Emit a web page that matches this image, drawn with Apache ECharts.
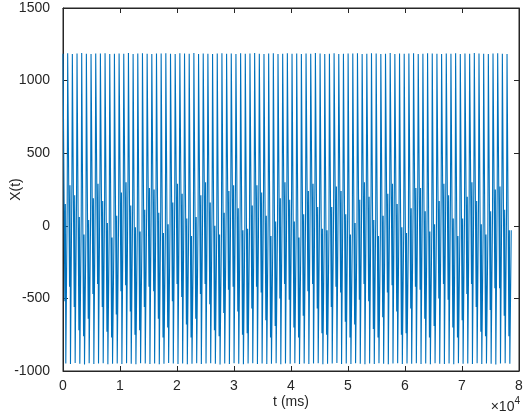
<!DOCTYPE html>
<html lang="en">
<head>
    <meta charset="UTF-8">
    <title>X(t)</title>
    <script src="https://cdn.jsdelivr.net/npm/echarts@6/dist/echarts.min.js"></script>
    <style>
        html, body { margin: 0; padding: 0; background: #fff; }
        #chart { width: 532px; height: 417px; }
    </style>
</head>
<body>
<div id="chart"></div>
<script type="text/javascript">
    // one oscillation cycle lasts about 820 ms, 96 cycles are visible
    const cyclePeriod = 820;

    // top of each cycle
    const peaks = [
        1185, 1188, 1184, 1186, 1190, 1185, 1183, 1187, 1186, 1189, 1184, 1185,
        1187, 1185, 1190, 1184, 1186, 1188, 1185, 1183, 1187, 1186, 1189, 1185,
        1184, 1188, 1186, 1185, 1190, 1184, 1187, 1185, 1183, 1186, 1189, 1185,
        1186, 1184, 1188, 1185, 1187, 1190, 1185, 1183, 1186, 1188, 1184, 1185,
        1189, 1185, 1186, 1184, 1187, 1185, 1190, 1186, 1183, 1185, 1188, 1184,
        1185, 1187, 1186, 1189, 1184, 1185, 1188, 1186, 1183, 1185, 1190, 1184,
        1186, 1185, 1187, 1188, 1184, 1185, 1189, 1186, 1185, 1183, 1187, 1185,
        1188, 1184, 1186, 1185, 1190, 1187, 1185, 1184, 1186, 1188, 1185, 1183
    ];
    // bottom of each cycle
    const troughs = [
        -948, -952, -945, -950, -955, -947, -951, -949, -946, -953, -950, -948,
        -952, -947, -950, -954, -946, -949, -951, -948, -953, -950, -945, -949,
        -951, -948, -954, -950, -946, -952, -949, -947, -950, -955, -948, -951,
        -947, -950, -953, -949, -946, -951, -948, -952, -950, -947, -954, -949,
        -950, -946, -952, -948, -951, -949, -947, -953, -950, -948, -945, -951,
        -949, -952, -947, -950, -954, -948, -951, -946, -950, -953, -949, -947,
        -951, -948, -950, -946, -952, -949, -954, -947, -950, -951, -948, -953,
        -946, -950, -949, -952, -947, -951, -948, -950, -955, -949, -946, -950
    ];
    // upper edge of the dense middle band
    const bandTop = [
        150, 280, 210, 60, -60, 40, 190, 290, 170, 20, -80, 70,
        230, 300, 140, -10, -40, 110, 260, 250, 90, -50, 10, 160,
        290, 220, 50, -70, 60, 210, 300, 160, 0, -60, 90, 240,
        280, 120, -30, -20, 140, 280, 230, 70, -70, 30, 190, 300,
        180, 30, -80, 80, 240, 290, 130, -20, -30, 130, 270, 240,
        80, -60, 20, 180, 300, 200, 40, -70, 70, 220, 290, 150,
        -10, -50, 120, 260, 260, 100, -40, 10, 170, 290, 210, 50,
        -70, 50, 200, 300, 170, 10, -60, 100, 250, 270, 110, -30
    ];
    // lower edge of the dense middle band
    const bandBot = [
        -520, -420, -560, -720, -760, -640, -470, -400, -560, -730, -770, -610,
        -450, -410, -590, -750, -720, -560, -420, -450, -640, -770, -700, -520,
        -400, -490, -680, -770, -640, -470, -400, -540, -720, -760, -600, -440,
        -420, -590, -750, -740, -570, -420, -460, -650, -770, -690, -500, -400,
        -510, -700, -770, -620, -450, -400, -570, -740, -750, -560, -420, -460,
        -660, -770, -680, -510, -400, -520, -710, -770, -630, -460, -410, -590,
        -750, -740, -570, -420, -440, -640, -770, -690, -500, -400, -510, -700,
        -770, -650, -470, -400, -560, -730, -760, -580, -430, -430, -620, -760
    ];

    const xTicks = ['0', '1', '2', '3', '4', '5', '6', '7', '8'];
    const yTicks = [-1000, -500, 0, 500, 1000, 1500];

    // line through the samples of every cycle (flat top and bottom)
    let points = [];
    const step = cyclePeriod / 10;
    for (let i = 0; i < peaks.length; i++) {
        let t0 = i * cyclePeriod;
        let seq = [peaks[i], peaks[i], peaks[i], peaks[i], bandBot[i],
                   bandTop[i], troughs[i], troughs[i], troughs[i], bandTop[i]];
        for (let k = 0; k < seq.length; k++) {
            points.push([t0 + k * step, seq[k]]);
        }
    }

    const axisColor = '#262626';
    const font = 'Liberation Sans, Arial, sans-serif';

    let chart = echarts.init(document.getElementById('chart'), null, {renderer: 'canvas'});
    chart.setOption({
        animation: false,
        backgroundColor: '#fff',
        grid: {
            left: 63, right: 13, top: 8, bottom: 46,
            containLabel: false, outerBoundsMode: 'none',
            show: true, borderColor: axisColor, borderWidth: 1, backgroundColor: '#fff'
        },
        xAxis: [{
            type: 'value', min: 0, max: 80000, interval: 10000,
            name: 't (ms)', nameLocation: 'middle', nameGap: 24, nameMoveOverlap: false,
            nameTextStyle: {color: axisColor, fontFamily: font, fontSize: 14},
            axisLine: {show: true, onZero: false, lineStyle: {color: axisColor}},
            axisTick: {show: true, inside: true, length: 5, lineStyle: {color: axisColor}},
            axisLabel: {
                color: axisColor, fontFamily: font, fontSize: 14, margin: 8,
                formatter: v => xTicks[Math.round(v / 10000)]
            },
            splitLine: {show: false}
        }, {
            type: 'value', min: 0, max: 80000, interval: 10000, position: 'top',
            axisLine: {show: true, onZero: false, lineStyle: {color: axisColor}},
            axisTick: {show: true, inside: true, length: 5, lineStyle: {color: axisColor}},
            axisLabel: {show: false}, splitLine: {show: false}
        }],
        yAxis: [{
            type: 'value', min: yTicks[0], max: yTicks[yTicks.length - 1], interval: 500,
            name: 'X(t)', nameLocation: 'middle', nameGap: 40, nameRotate: 90, nameMoveOverlap: false,
            nameTextStyle: {color: axisColor, fontFamily: font, fontSize: 14},
            axisLine: {show: true, onZero: false, lineStyle: {color: axisColor}},
            axisTick: {show: true, inside: true, length: 5, lineStyle: {color: axisColor}},
            axisLabel: {color: axisColor, fontFamily: font, fontSize: 14, margin: 13, formatter: v => String(v)},
            splitLine: {show: false}
        }, {
            type: 'value', min: yTicks[0], max: yTicks[yTicks.length - 1], interval: 500, position: 'right',
            axisLine: {show: true, onZero: false, lineStyle: {color: axisColor}},
            axisTick: {show: true, inside: true, length: 5, lineStyle: {color: axisColor}},
            axisLabel: {show: false}, splitLine: {show: false}
        }],
        graphic: [{
            type: 'text', right: 12, top: 396,
            style: {
                text: '{a|×10}{b|4}',
                rich: {
                    a: {fontFamily: font, fontSize: 14, fill: axisColor, verticalAlign: 'bottom'},
                    b: {fontFamily: font, fontSize: 10, fill: axisColor, verticalAlign: 'top', padding: [0, 0, 8, 0]}
                }
            }
        }],
        series: [{
            type: 'line',
            data: points,
            showSymbol: false,
            smooth: false,
            sampling: null,
            lineStyle: {color: '#0072BD', width: 1.1},
            z: 1
        }]
    });
</script>
</body>
</html>
